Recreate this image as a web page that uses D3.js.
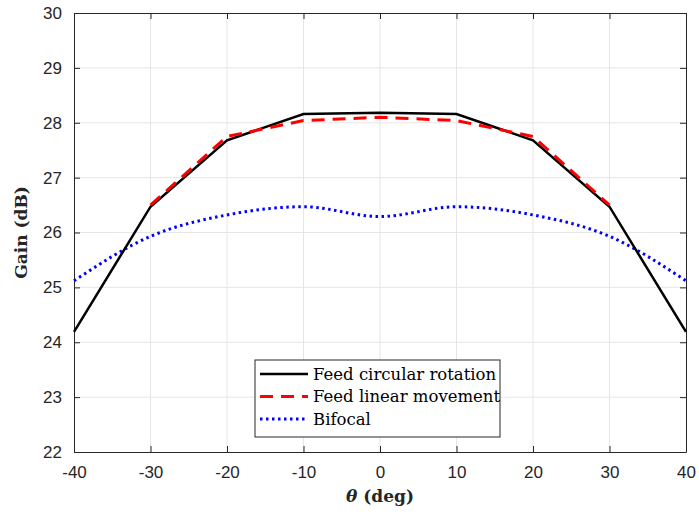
<!DOCTYPE html>
<html>
<head>
<meta charset="utf-8">
<script src="https://cdn.jsdelivr.net/npm/d3@7"></script>
<style>
  body { margin: 0; background: #fff; }
  svg { display: block; }
</style>
</head>
<body>
<div id="chart"></div>
<script>
// angles (deg)
const angles = [-40, -30, -20, -10, 0, 10, 20, 30, 40];
const circularGain = [24.19, 26.47, 27.68, 28.16, 28.18, 28.16, 27.68, 26.47, 24.19];
const linearAngles = [-30, -20, -10, 0, 10, 20, 30];
const linearGain = [26.5, 27.75, 28.04, 28.1, 28.04, 27.75, 26.5];
const bifocalGain = [25.12, 25.93, 26.32, 26.47, 26.29, 26.47, 26.32, 25.93, 25.12];
const xTicks = [-40, -30, -20, -10, 0, 10, 20, 30, 40];
const yTicks = [22, 23, 24, 25, 26, 27, 28, 29, 30];
const legendLabels = ['Feed circular rotation', 'Feed linear movement', 'Bifocal'];

const W = 699, H = 514;
const margin = { top: 13, right: 13, bottom: 62, left: 74 };
const width = W - margin.left - margin.right;
const height = H - margin.top - margin.bottom;

const svg = d3.select('#chart').append('svg')
  .attr('width', W)
  .attr('height', H);

const g = svg.append('g')
  .attr('transform', `translate(${margin.left},${margin.top})`);

const x = d3.scaleLinear().domain([-40, 40]).range([0, width]);
const y = d3.scaleLinear().domain([22, 30]).range([height, 0]);

// grid
g.append('g').selectAll('line')
  .data(xTicks.slice(1, -1))
  .enter().append('line')
  .attr('x1', d => x(d)).attr('x2', d => x(d))
  .attr('y1', 0).attr('y2', height)
  .attr('stroke', '#e6e6e6').attr('stroke-width', 1);
g.append('g').selectAll('line')
  .data(yTicks.slice(1, -1))
  .enter().append('line')
  .attr('y1', d => y(d)).attr('y2', d => y(d))
  .attr('x1', 0).attr('x2', width)
  .attr('stroke', '#e6e6e6').attr('stroke-width', 1);

// axes
const tickFont = '"Liberation Sans", Arial, sans-serif';
const fmt = d => String(d); // plain hyphen minus like matlab
const xAxis = g.append('g')
  .attr('transform', `translate(0,${height})`)
  .call(d3.axisBottom(x).tickValues(xTicks).tickFormat(fmt).tickSizeInner(-6).tickSizeOuter(0).tickPadding(14));
const yAxis = g.append('g')
  .call(d3.axisLeft(y).tickValues(yTicks).tickFormat(fmt).tickSizeInner(-6).tickSizeOuter(0).tickPadding(12));
g.append('g')
  .call(d3.axisTop(x).tickValues(xTicks).tickSizeInner(-6).tickSizeOuter(0).tickFormat(''));
g.append('g')
  .attr('transform', `translate(${width},0)`)
  .call(d3.axisRight(y).tickValues(yTicks).tickSizeInner(-6).tickSizeOuter(0).tickFormat(''));

g.selectAll('.domain').attr('stroke', '#262626').attr('stroke-width', 1);
g.selectAll('.tick line').attr('stroke', '#262626');
[xAxis, yAxis].forEach(a => a.selectAll('text')
  .attr('font-family', tickFont)
  .attr('font-size', 17)
  .attr('fill', '#262626'));

// lines
const line = d3.line().x(d => x(d[0])).y(d => y(d[1]));

g.append('path')
  .datum(angles.map((a, i) => [a, bifocalGain[i]]))
  .attr('fill', 'none')
  .attr('stroke', '#0000ff')
  .attr('stroke-width', 3)
  .attr('stroke-dasharray', '2.5,3.5')
  .attr('d', line.curve(d3.curveMonotoneX));

g.append('path')
  .datum(angles.map((a, i) => [a, circularGain[i]]))
  .attr('fill', 'none')
  .attr('stroke', '#000')
  .attr('stroke-width', 2.5)
  .attr('d', line.curve(d3.curveLinear));

g.append('path')
  .datum(linearAngles.map((a, i) => [a, linearGain[i]]))
  .attr('fill', 'none')
  .attr('stroke', '#ff0000')
  .attr('stroke-width', 3)
  .attr('stroke-dasharray', '13,8')
  .attr('d', line.curve(d3.curveLinear));

// axis labels
const serif = '"DejaVu Serif", "Liberation Serif", serif';
svg.append('text')
  .attr('transform', `translate(27,${margin.top + height / 2}) rotate(-90)`)
  .attr('text-anchor', 'middle')
  .attr('font-family', serif)
  .attr('font-weight', 'bold')
  .attr('font-size', 17)
  .attr('fill', '#262626')
  .text('Gain (dB)');

const xl = svg.append('text')
  .attr('x', margin.left + width / 2)
  .attr('y', 502)
  .attr('text-anchor', 'middle')
  .attr('font-family', serif)
  .attr('font-weight', 'bold')
  .attr('font-size', 17)
  .attr('fill', '#262626');
xl.append('tspan').attr('font-style', 'italic').text('θ');
xl.append('tspan').text(' (deg)');

// legend
const lg = svg.append('g').attr('transform', 'translate(255,360)');
lg.append('rect')
  .attr('width', 245).attr('height', 77)
  .attr('fill', '#fff').attr('stroke', '#262626').attr('stroke-width', 1);
const styles = [
  { stroke: '#000', dash: null, w: 2.5 },
  { stroke: '#ff0000', dash: '13,8', w: 3 },
  { stroke: '#0000ff', dash: '2.5,3.5', w: 3 }
];
legendLabels.forEach((t, i) => {
  const yy = 14 + i * 22.5;
  lg.append('line')
    .attr('x1', 5).attr('x2', 53).attr('y1', yy).attr('y2', yy)
    .attr('stroke', styles[i].stroke)
    .attr('stroke-width', styles[i].w)
    .attr('stroke-dasharray', styles[i].dash);
  lg.append('text')
    .attr('x', 58).attr('y', yy + 5.5)
    .attr('font-family', '"DejaVu Serif", "Liberation Serif", serif')
    .attr('font-size', 16.5)
    .attr('fill', '#000')
    .text(t);
});
</script>
</body>
</html>
